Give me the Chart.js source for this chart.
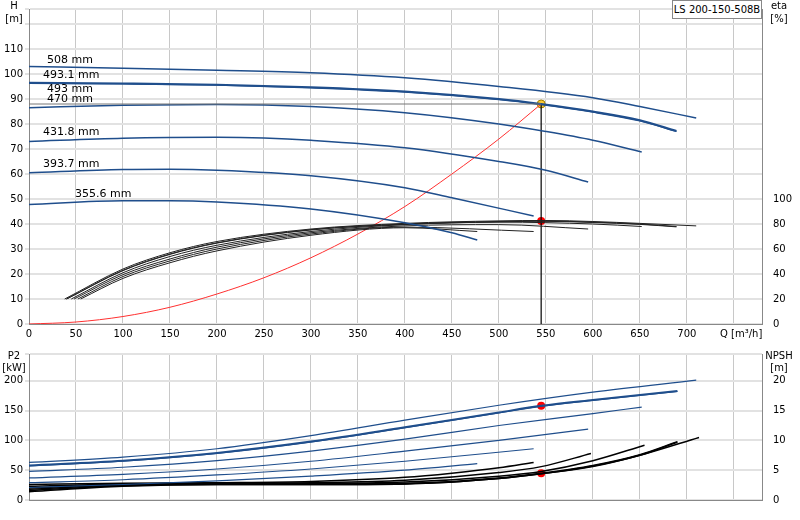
<!DOCTYPE html>
<html><head><meta charset="utf-8">
<script src="https://cdn.jsdelivr.net/npm/chart.js@4"></script>
<style>
body{margin:0;background:#fff;width:800px;height:520px;overflow:hidden;position:relative;font-family:"DejaVu Sans",sans-serif}
#top{position:absolute;left:0;top:0}
#bot{position:absolute;left:0;top:345px}
#tag{position:absolute;left:672px;top:0;width:88px;height:17px;border:1px solid #888;font-size:10px;line-height:17px;text-align:center;background:#fff}
</style></head><body>
<canvas id="top" width="800" height="345"></canvas>
<canvas id="bot" width="800" height="175"></canvas>
<div id="tag">LS 200-150-508B</div>
<script>
// impeller diameters
const diameters=['508 mm','493.1 mm','493 mm','470 mm','431.8 mm','393.7 mm','355.6 mm'];
// head curves H [m]
const qH508=[0,100,200,300,400,500,600,650,710];
const h508=[103,102.3,101.5,100.5,98.5,95,90.5,87,82.4];
const qH4931=[0,100,200,300,400,500,545,600,650,689];
const h4931=[96.5,96.2,95.7,94.7,93,90,88,85,81.5,77.2];
const h493=[96.2,96,95.5,94.4,92.7,89.7,87.7,84.7,81.2,77];
const qH470=[0,100,200,300,400,500,550,600,652];
const h470=[86.5,87.5,87.8,87,84.5,80,77,73.5,68.8];
const qH4318=[0,100,200,250,300,400,500,550,595];
const h4318=[73,74.3,74.7,74.4,73.5,70.5,65,61.5,56.8];
const qH3937=[0,100,150,200,300,400,450,537];
const h3937=[60.5,61.8,61.9,61.5,59.3,54.5,50.5,43.2];
const qH3556=[0,100,150,200,300,400,450,477];
const h3556=[47.8,49.3,49.3,48.8,46,40.5,36.5,33.6];
// efficiency eta [%]
const qE508=[38,100,150,200,300,400,500,550,600,650,710];
const e508=[20,44,57,66,76,80.5,82.5,82.8,82,80.5,78.5];
const qE4931=[40,100,150,200,300,400,500,545,600,650,689];
const e4931=[20,43,56,65,75.5,80,82,82.5,81.5,80,78];
const e493=[20,42.7,55.7,64.7,75.2,79.7,81.7,82.2,81.2,79.7,77.7];
const qE470=[45,100,150,200,300,400,500,600,652];
const e470=[20,41,54,63,74,79.5,81.5,80,78];
const qE4318=[48,100,150,200,300,400,500,595];
const e4318=[20,39.5,52,61.5,73,78.5,79.5,76];
const qE3937=[52,100,150,200,300,400,537];
const e3937=[20,38,50.5,60,72,77.5,74];
const qE3556=[55,100,150,200,300,400,477];
const e3556=[20,36.5,49,58.5,71,77,74];
// system curve
const qSys=[0,50,100,150,200,250,300,350,400,450,500,545];
const hSys=[0,0.8,3,6.7,12,18.5,26.5,36,47,60,74,88];
// duty point
const qDuty=545, hDuty=88, etaDuty=82.5, p2Duty=158, npshDuty=4.5;
// power P2 [kW]
const qP508=[0,100,200,300,400,500,600,710];
const p508=[63,72,86,108,134,159,181,201];
const qP4931=[0,100,200,300,400,500,545,600,690];
const p4931=[58,66,79,98,122,147,158,168,183];
const p493=[57,65,78,97,121,146,157,167,182];
const qP470=[0,100,200,300,400,500,600,652];
const p470=[48,55,66,82,102,125,145,156];
const qP4318=[0,100,200,300,400,500,595];
const p4318=[37,43,52,65,82,100,119];
const qP3937=[0,100,200,300,400,537];
const p3937=[29,34,42,52,65,86];
const qP3556=[0,100,200,300,400,477];
const p3556=[21,26,32,40,50,61];
// NPSH [m]
const qN1=[0,100,200,300,400,450,500,537];
const n1=[2.6,2.8,2.9,3.1,3.8,4.5,5.4,6.3];
const qN2=[0,100,200,300,400,500,545,598];
const n2=[2.3,2.7,2.8,2.9,3.3,4.6,5.6,7.8];
const qN3=[0,100,200,300,400,500,545,600,655];
const n3=[2.0,2.6,2.8,2.8,3.0,4.0,4.8,6.6,9.2];
const qN4=[0,100,200,300,400,500,545,600,650,690];
const n4=[1.8,2.5,2.7,2.7,2.8,3.7,4.5,5.8,7.6,9.8];
const n5=[1.6,2.4,2.6,2.6,2.7,3.6,4.4,5.7,7.5,9.7];
const qN6=[0,100,200,300,400,500,545,600,650,713];
const n6=[1.4,2.3,2.6,2.6,2.7,3.6,4.4,5.6,7.5,10.5];

const pts=(q,v)=>q.map((x,i)=>({x,y:v[i]}));
const BLUE='#1f4e8c';
const line=(q,v,c,w,axis)=>({data:pts(q,v),borderColor:c,borderWidth:w,pointRadius:0,fill:false,parsing:false,yAxisID:axis});
const dot=(x,y,c,axis)=>({type:'scatter',data:[{x,y}],backgroundColor:c,borderColor:'#a08000',borderWidth:c==='#ffcc33'?1:0,pointRadius:4,yAxisID:axis});
const font={family:'DejaVu Sans',size:10};
const grid={color:'#c8c8c8',lineWidth:1};
const hgrid={color:'#e2e2e2',lineWidth:2};

const topLabels={id:'topLabels',afterDraw(c){
 const x=c.ctx;x.save();x.font='11px DejaVu Sans';x.fillStyle='#000';
 [['508 mm',47,63],['493.1 mm',43,78],['493 mm',47,92],['470 mm',47,102],['431.8 mm',43,135],['393.7 mm',43,167],['355.6 mm',75,197]].forEach(t=>x.fillText(t[0],t[1],t[2]));
 x.font='10px DejaVu Sans';x.textAlign='center';x.fillText('H',14,9);x.fillText('[m]',14,22);
 x.fillText('eta',779,9);x.fillText('[%]',779,22);
 x.textAlign='left';x.fillText('Q [m³/h]',720,337);
 x.restore();}};
const botLabels={id:'botLabels',afterDraw(c){
 const x=c.ctx;x.save();x.font='10px DejaVu Sans';x.fillStyle='#000';x.textAlign='center';
 x.fillText('P2',14,14);x.fillText('[kW]',14,26);
 x.fillText('NPSH',779,14);x.fillText('[m]',779,26);
 x.restore();}};

const xScale=(labels)=>({type:'linear',min:0,max:780,afterFit:s=>{s.height=labels?21:20},
 grid:{...grid,drawTicks:false},border:{color:'#888'},
 ticks:{stepSize:50,font,color:'#000',display:labels,padding:4,callback:v=>v<=700?v:''}});

new Chart(document.getElementById('top'),{type:'line',
 data:{datasets:[
  line([0,qDuty],[hDuty,hDuty],'#777',1,'y'),
  line(qH508,h508,BLUE,1.5,'y'),
  line(qH4931,h4931,BLUE,2.2,'y'),
  line(qH4931,h493,BLUE,1.2,'y'),
  line(qH470,h470,BLUE,1.5,'y'),
  line(qH4318,h4318,BLUE,1.5,'y'),
  line(qH3937,h3937,BLUE,1.5,'y'),
  line(qH3556,h3556,BLUE,1.5,'y'),
  line(qE508,e508,'#222',1,'eta'),
  line(qE4931,e4931,'#222',1,'eta'),
  line(qE4931,e493,'#222',1,'eta'),
  line(qE470,e470,'#222',1,'eta'),
  line(qE4318,e4318,'#222',1,'eta'),
  line(qE3937,e3937,'#222',1,'eta'),
  line(qE3556,e3556,'#222',1,'eta'),
  line(qSys,hSys,'#ff3030',1,'y'),
  line([qDuty,qDuty],[0,hDuty],'#000',1.2,'y'),
  dot(qDuty,etaDuty,'#ff0000','eta'),
  dot(qDuty,hDuty,'#ffcc33','y')
 ]},
 options:{animation:false,responsive:false,plugins:{legend:{display:false},tooltip:{enabled:false}},
  layout:{padding:0},elements:{line:{cubicInterpolationMode:'monotone'}},
  scales:{
   x:xScale(true),
   y:{position:'left',min:0,max:126,afterFit:s=>{s.width=29},grid:{...hgrid,drawTicks:true,tickLength:4},border:{color:'#888'},
     ticks:{stepSize:10,font,color:'#000',padding:2,callback:v=>v<=110?v:''}},
   eta:{position:'right',min:0,max:252,afterFit:s=>{s.width=38},grid:{display:false},border:{color:'#888'},
     ticks:{stepSize:20,font,color:'#000',callback:v=>v<=100?v:''}}
  }},
 plugins:[topLabels]});

new Chart(document.getElementById('bot'),{type:'line',
 data:{datasets:[
  line(qP508,p508,BLUE,1.2,'y'),
  line(qP4931,p4931,BLUE,2,'y'),
  line(qP4931,p493,BLUE,1,'y'),
  line(qP470,p470,BLUE,1.2,'y'),
  line(qP4318,p4318,BLUE,1.2,'y'),
  line(qP3937,p3937,BLUE,1.2,'y'),
  line(qP3556,p3556,BLUE,1.2,'y'),
  line(qN1,n1,'#000',1.5,'npsh'),
  line(qN2,n2,'#000',1.5,'npsh'),
  line(qN3,n3,'#000',1.5,'npsh'),
  line(qN4,n4,'#000',1.5,'npsh'),
  line(qN4,n5,'#000',1.5,'npsh'),
  line(qN6,n6,'#000',1.5,'npsh'),
  dot(qDuty,p2Duty,'#ff0000','y'),
  dot(qDuty,npshDuty,'#ff0000','npsh')
 ]},
 options:{animation:false,responsive:false,plugins:{legend:{display:false},tooltip:{enabled:false}},
  layout:{padding:{top:7}},elements:{line:{cubicInterpolationMode:'monotone'}},
  scales:{
   x:xScale(false),
   y:{position:'left',min:0,max:245,afterFit:s=>{s.width=29},grid:{...hgrid,drawTicks:true,tickLength:4},border:{color:'#888'},
     ticks:{stepSize:50,font,color:'#000',padding:2,callback:v=>v<=200?v:''}},
   npsh:{position:'right',min:0,max:24.5,afterFit:s=>{s.width=38},grid:{display:false},border:{color:'#888'},
     ticks:{stepSize:5,font,color:'#000',callback:v=>v<=20?v:''}}
  }},
 plugins:[botLabels]});
</script></body></html>
